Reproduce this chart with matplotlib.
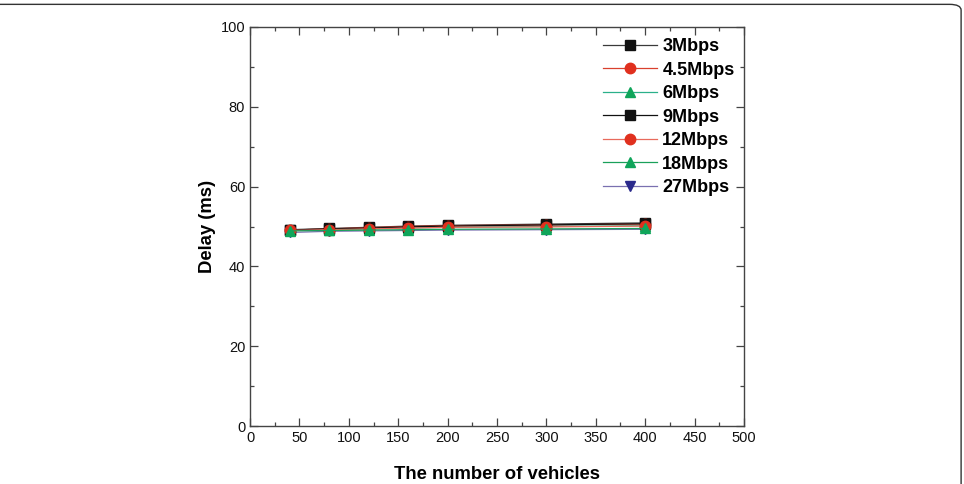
import matplotlib.pyplot as plt
from matplotlib.patches import FancyBboxPatch
from matplotlib.ticker import MultipleLocator

plt.rcParams['font.family'] = ['Liberation Sans', 'DejaVu Sans']

# data
vehicles = [40, 80, 120, 160, 200, 300, 400]
labels = ["3Mbps", "4.5Mbps", "6Mbps", "9Mbps", "12Mbps", "18Mbps", "27Mbps"]
d_3 = [49.2, 49.5, 49.8, 50.1, 50.3, 50.6, 50.9]
d_45 = [49.1, 49.4, 49.7, 50.0, 50.2, 50.4, 50.6]
d_6 = [49.0, 49.2, 49.4, 49.6, 49.8, 50.0, 50.2]
d_9 = [49.1, 49.4, 49.6, 49.9, 50.1, 50.4, 50.7]
d_12 = [49.0, 49.2, 49.4, 49.6, 49.8, 49.9, 50.1]
d_18 = [48.9, 49.0, 49.1, 49.2, 49.3, 49.4, 49.5]
d_27 = [48.5, 48.8, 48.9, 49.0, 49.1, 49.2, 49.3]

series = [d_3, d_45, d_6, d_9, d_12, d_18, d_27]
line_cols = ["#3a3a3a", "#d9402e", "#2bb08a", "#111111", "#e86a5c", "#1aa05a", "#7a70b0"]
mark_cols = ["#111111", "#e0301e", "#0fa55a", "#111111", "#e0301e", "#0fa55a", "#2b2a8c"]
markers = ["s", "o", "^", "s", "o", "^", "v"]
zords = [3, 4, 5, 6, 7, 8, 2]

fig = plt.figure(figsize=(9.64, 4.84), dpi=100)
ax = fig.add_axes([250 / 964, 1 - 426 / 484, 494 / 964, 399 / 484])

for vals, lab, lc, mc, mk, z in zip(series, labels, line_cols, mark_cols, markers, zords):
    ax.plot(vehicles, vals, color=lc, lw=0.9, marker=mk, markersize=7.5,
            markerfacecolor=mc, markeredgecolor=mc, label=lab, zorder=z)

ax.set_xlim(0, 500)
ax.set_ylim(0, 100)
ax.xaxis.set_major_locator(MultipleLocator(50))
ax.xaxis.set_minor_locator(MultipleLocator(25))
ax.yaxis.set_major_locator(MultipleLocator(20))
ax.yaxis.set_minor_locator(MultipleLocator(10))
ax.tick_params(which='both', direction='in', top=True, right=True, colors='#444444',
               labelcolor='#111111', labelsize=10.5)
ax.tick_params(which='major', length=6, width=0.9)
ax.tick_params(which='minor', length=3, width=0.9)
for s in ax.spines.values():
    s.set_color('#444444')
    s.set_linewidth(1.0)

ax.set_xlabel("The number of vehicles", fontsize=13.3, fontweight='bold', labelpad=15)
ax.set_ylabel("Delay (ms)", fontsize=13.3, fontweight='bold', labelpad=3)

leg = ax.legend(loc='upper left', bbox_to_anchor=(0.714, 0.972), frameon=False,
                borderaxespad=0, borderpad=0, handlelength=3.0, handletextpad=0.3,
                labelspacing=0.36, prop={'weight': 'bold', 'size': 13})

# thin rounded frame around the whole picture
frame = FancyBboxPatch((-0.05, -0.1), 1.0 - 0.003 + 0.05, 1.0 - 0.009 + 0.1,
                       boxstyle="round,pad=0,rounding_size=0.012",
                       transform=fig.transFigure, fill=False,
                       edgecolor='#333333', linewidth=1.0)
fig.patches.append(frame)

fig.savefig("out.png", dpi=100)
